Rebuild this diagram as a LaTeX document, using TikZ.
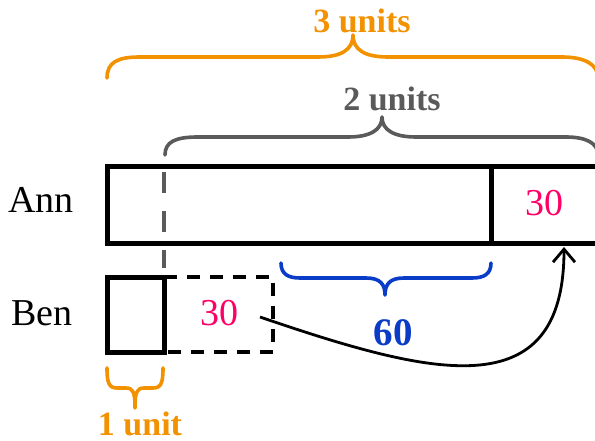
\documentclass[tikz,border=0pt]{standalone}
\usepackage{fontspec}
\setmainfont{Liberation Serif}
\usetikzlibrary{arrows.meta}
\definecolor{braceorange}{HTML}{F39200}
\definecolor{bracegray}{HTML}{5A5A5A}
\definecolor{braceblue}{HTML}{0A3CC8}
\definecolor{numpink}{HTML}{FF0066}
\tikzset{
  barline/.style={line width=5pt, line cap=butt, line join=miter},
  dashbox/.style={line width=3.4pt, dash pattern=on 13pt off 10pt},
  guide/.style={line width=4.2pt, bracegray, dash pattern=on 21pt off 18pt},
  bracepath/.style={line width=3.6pt, line cap=round, line join=round},
  namelbl/.style={anchor=base, inner sep=0pt, font=\fontsize{38}{40}\selectfont},
  numlbl/.style={anchor=base, inner sep=0pt, text=numpink, font=\fontsize{38}{40}\selectfont},
  unitlbl/.style={anchor=base, inner sep=0pt, font=\fontsize{34}{36}\selectfont\bfseries},
  movearrow/.style={line width=2.8pt, -{Straight Barb[length=13pt,width=22pt,line width=2.8pt]}}
}
\begin{document}
\begin{tikzpicture}[x=1pt,y=-1pt]
\useasboundingbox (0,0) rectangle (595,441);
\fill[white] (0,0) rectangle (595,441);

% Ann bar
\draw[barline] (107,167) rectangle (620,244);
\draw[barline] (491,167) -- (491,244);

% Ben dashed extension
\draw[dashbox] (164,277) -- (273,277) -- (273,352) -- (164,352);
% Ben solid box
\draw[barline] (107,277) rectangle (164,352);

% gray guide line
\draw[guide] (164,172) -- (164,268);

% top orange brace (3 units)
\draw[bracepath, braceorange] (107,78) .. controls (107,62) and (118,57) .. (140,57)
  -- (318,57) .. controls (341,57) and (353,50) .. (353,35)
  .. controls (353,50) and (365,57) .. (388,57)
  -- (562,57) .. controls (584,57) and (598,64) .. (598,78);

% gray brace (2 units)
\draw[bracepath, bracegray] (165,155) .. controls (165,142) and (175,137) .. (198,137)
  -- (348,137) .. controls (370,137) and (382,130) .. (382,117)
  .. controls (382,130) and (394,137) .. (416,137)
  -- (566,137) .. controls (586,137) and (598,143) .. (598,155);

% blue brace (60)
\draw[bracepath, braceblue] (281,263) .. controls (281,274) and (288,278) .. (300,278)
  -- (366,278) .. controls (380,278) and (385,284) .. (385,295)
  .. controls (385,284) and (390,278) .. (404,278)
  -- (472,278) .. controls (484,278) and (491,274) .. (491,263);

% small orange brace (1 unit)
\draw[bracepath, braceorange] (107,368) .. controls (107,383) and (109,388) .. (117,388)
  -- (126,388) .. controls (133,388) and (135,392) .. (135,408)
  .. controls (135,392) and (137,388) .. (144,388)
  -- (153,388) .. controls (161,388) and (163,383) .. (163,368);

% labels
\node[namelbl] (ann) at (41,213) {Ann};
\node[namelbl] (ben) at (42,325) {Ben};
\node[numlbl] (annthirty) at (544,215) {30};
\node[numlbl] (benthirty) at (219,325) {30};
\node[unitlbl, text=braceorange] (three) at (362,33) {3 units};
\node[unitlbl, text=bracegray] (two) at (392,111) {2 units};
\node[unitlbl, text=braceorange] (one) at (140,435) {1 unit};
\node[anchor=base, inner sep=0pt, text=braceblue, font=\fontsize{39}{40}\selectfont\bfseries] (sixty) at (393,345) {60};

% arrow
\coordinate (arrS) at (260,317);
\coordinate (arrE) at (564,247);
\draw[movearrow] (arrS) .. controls (430,375) and (564,410) .. (arrE);
\end{tikzpicture}
\end{document}
